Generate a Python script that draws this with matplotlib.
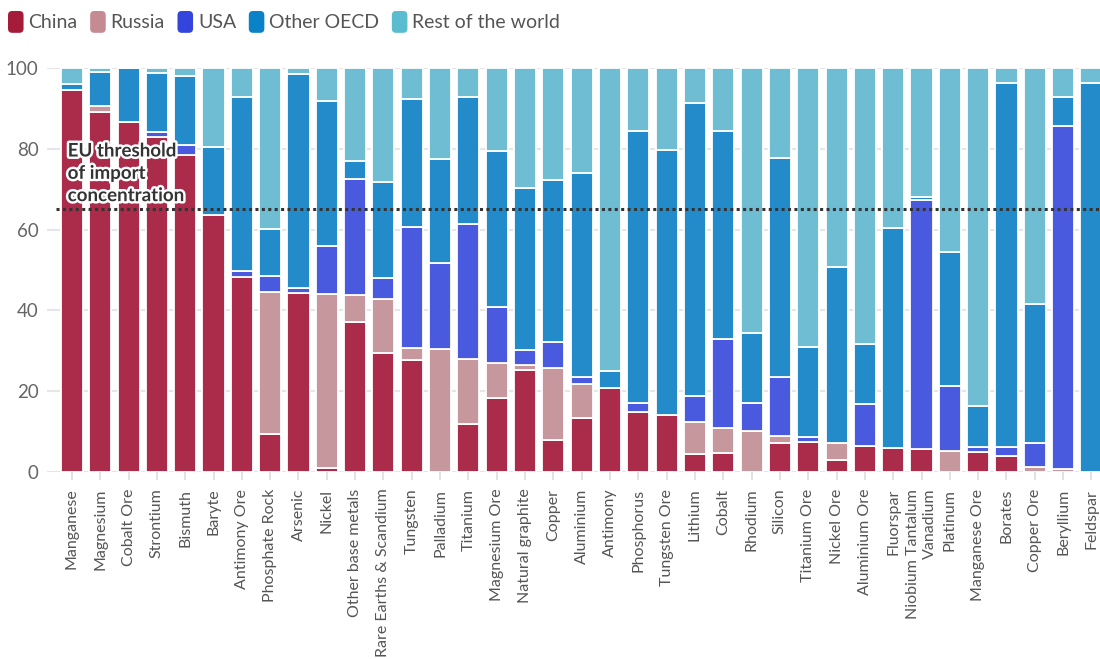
import matplotlib
matplotlib.use("Agg")
import matplotlib.pyplot as plt
import matplotlib.patheffects as pe
from matplotlib.patches import Patch, FancyBboxPatch
from matplotlib.legend_handler import HandlerPatch
import numpy as np

plt.rcParams['font.family'] = ['Lato', 'DejaVu Sans']

categories = ["Manganese", "Magnesium", "Cobalt Ore", "Strontium", "Bismuth", "Baryte",
              "Antimony Ore", "Phosphate Rock", "Arsenic", "Nickel", "Other base metals",
              "Rare Earths & Scandium", "Tungsten", "Palladium", "Titanium", "Magnesium Ore",
              "Natural graphite", "Copper", "Aluminium", "Antimony", "Phosphorus",
              "Tungsten Ore", "Lithium", "Cobalt", "Rhodium", "Silicon", "Titanium Ore",
              "Nickel Ore", "Aluminium Ore", "Fluorspar", "Niobium Tantalum\nVanadium",
              "Platinum", "Manganese Ore", "Borates", "Copper Ore", "Beryllium", "Feldspar"]

china = [94.6, 89.2, 86.7, 83.0, 78.5, 63.7, 48.2, 9.4, 44.4, 0.9, 37.2, 29.5, 27.6, 0.0,
         11.9, 18.2, 25.2, 7.9, 13.3, 20.7, 14.9, 14.1, 4.4, 4.6, 0.0, 7.3, 7.5, 3.0, 6.5,
         5.9, 5.6, 0.0, 5.0, 4.0, 0.0, 0.0, 0.0]
russia = [0, 1.5, 0, 0, 0, 0, 0, 35.1, 0, 43.1, 6.6, 13.3, 3.2, 30.4, 16.0, 8.9, 1.3, 17.9,
          8.5, 0, 0, 0, 8.1, 6.2, 10.1, 1.6, 0, 4.3, 0, 0, 0, 5.3, 0, 0, 1.3, 0.7, 0]
usa = [0, 0, 0, 1.1, 2.5, 0, 1.6, 4.1, 1.1, 12.0, 28.7, 5.3, 29.8, 21.3, 33.5, 13.8, 3.7,
       6.5, 1.8, 0, 2.3, 0, 6.4, 22.1, 6.9, 14.5, 1.2, 0, 10.3, 0, 61.7, 16.0, 1.1, 2.1,
       6.0, 85.0, 0]
other_oecd = [1.4, 8.2, 13.3, 14.6, 16.9, 16.8, 42.9, 11.5, 53.0, 35.9, 4.6, 23.8, 31.7,
              25.8, 31.3, 38.6, 40.2, 40.1, 50.3, 4.3, 67.2, 65.6, 72.4, 51.5, 17.5, 54.2,
              22.2, 43.5, 14.8, 54.4, 0.7, 33.2, 10.3, 90.1, 34.4, 7.2, 96.2]
rest = [4.0, 1.1, 0.0, 1.3, 2.1, 19.5, 7.3, 39.9, 1.5, 8.1, 22.9, 28.1, 7.7, 22.5, 7.3,
        20.5, 29.6, 27.6, 26.1, 75.0, 15.6, 20.3, 8.7, 15.6, 65.5, 22.4, 69.1, 49.2, 68.4,
        39.7, 32.0, 45.5, 83.6, 3.8, 58.3, 7.1, 3.8]

series = ["China", "Russia", "USA", "Other OECD", "Rest of the world"]
values = [china, russia, usa, other_oecd, rest]
bar_colors = ["#AA2B4A", "#C6979C", "#4A5ADF", "#238BC9", "#6EBDD2"]
legend_colors = ["#A51C3B", "#C48B93", "#3445DE", "#0A82C8", "#5BBBCF"]

threshold = 65


class RoundHandler(HandlerPatch):
    def create_artists(self, legend, orig_handle, xdescent, ydescent, width, height,
                       fontsize, trans):
        p = FancyBboxPatch((-xdescent, -ydescent), width, height,
                           boxstyle="round,pad=0,rounding_size=3",
                           facecolor=orig_handle.get_facecolor(), edgecolor='none',
                           transform=trans)
        return [p]


fig = plt.figure(figsize=(11, 6.59), dpi=100)
ax = fig.add_axes([47 / 1100, (659 - 472) / 659, (1109 - 47) / 1100, (472 - 68) / 659])

x = np.arange(len(categories))
bottom = np.zeros(len(categories))
for name, vals, col in zip(series, values, bar_colors):
    vals = np.array(vals, dtype=float)
    ax.bar(x, vals, bottom=bottom, width=0.78, color=col, edgecolor='white',
           linewidth=1.3, zorder=2)
    bottom += vals

ax.set_xlim(-0.88, len(categories) - 0.38)
ax.set_ylim(0, 100)
ax.set_yticks([0, 20, 40, 60, 80, 100])
ax.grid(axis='y', color='#e6e6e6', linewidth=1.5, zorder=0)
for s in ax.spines.values():
    s.set_visible(False)
ax.tick_params(axis='y', length=0, labelsize=13.5, labelcolor='#666666', pad=6)
ax.set_xticks(x)
ax.set_xticklabels(categories, rotation=90, multialignment='right')
ax.tick_params(axis='x', length=6, width=1.2, color='#dddddd', labelsize=11.5,
               labelcolor='#555555', pad=6)

# EU threshold line
ax.plot([-0.55, len(categories)], [threshold, threshold], color='#333333', lw=2.2,
        linestyle=(0, (1, 1.1)), zorder=4, clip_on=False)
ax.text(-0.15, threshold + 1.3, "EU threshold\nof import\nconcentration", fontsize=13.5,
        fontweight='bold', color='#333333', ha='left', va='bottom', linespacing=1.38,
        zorder=5, path_effects=[pe.withStroke(linewidth=3.5, foreground='white')])

handles = [Patch(facecolor=c) for c in legend_colors]
fig.legend(handles, series, loc='upper left', bbox_to_anchor=(8 / 1100, 1 - 11 / 659),
           ncol=5, frameon=False, fontsize=14, handlelength=0.8, handleheight=1.35,
           handletextpad=0.25, columnspacing=0.65, borderpad=0, borderaxespad=0,
           labelcolor='#555555', handler_map={Patch: RoundHandler()})

fig.savefig("out.png", dpi=100)
